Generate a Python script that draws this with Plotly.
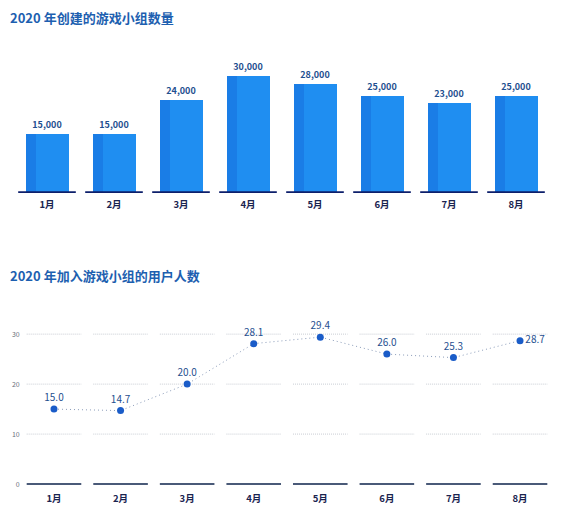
import plotly.graph_objects as go

# data
months = ["1月", "2月", "3月", "4月", "5月", "6月", "7月", "8月"]
groups_created = [15000, 15000, 24000, 30000, 28000, 25000, 23000, 25000]
users_joined = [15.0, 14.7, 20.0, 28.1, 29.4, 26.0, 25.3, 28.7]
user_ticks = [0, 10, 20, 30]

title_top = "2020 年创建的游戏小组数量"
title_bottom = "2020 年加入游戏小组的用户人数"

# page body has an 8px margin, so the figure is a bit smaller and shifted
PAD = 8
W, H = 564 - 2 * PAD, 513 - 2 * PAD
FONT = "Noto Sans CJK SC"
xs = list(range(len(months)))


def px_x(px):
    return (px - PAD) / W


def px_y(px):
    return 1 - (px - PAD) / H


def segments(half, level):
    sx, sy = [], []
    for i in xs:
        sx += [i - half, i + half, None]
        sy += [level, level, None]
    return sx, sy


fig = go.Figure()

# ---- top: bar chart ----
fig.add_trace(go.Bar(
    x=xs, y=groups_created, width=0.64, offset=-0.32,
    marker=dict(color="#1f8ef1", line=dict(width=0)),
    text=[f"<b>{v:,}</b>" for v in groups_created], textposition="outside",
    textfont=dict(family=FONT, size=9, color="#1f4f8f"),
    cliponaxis=False, xaxis="x", yaxis="y", hoverinfo="skip",
))
fig.add_trace(go.Bar(
    x=xs, y=groups_created, width=0.15, offset=-0.32,
    marker=dict(color="#1a7de6", line=dict(width=0)),
    xaxis="x", yaxis="y", hoverinfo="skip",
))
bx, by = segments(0.43, 0)
fig.add_trace(go.Scatter(
    x=bx, y=by, mode="lines", line=dict(color="#0d1f6b", width=3),
    xaxis="x", yaxis="y", hoverinfo="skip", cliponaxis=False,
))

# ---- bottom: line chart ----
for t in user_ticks[1:]:
    gx, gy = segments(0.41, t)
    fig.add_trace(go.Scatter(
        x=gx, y=gy, mode="lines", line=dict(color="#c9cdd4", width=1, dash="1px,1px"),
        xaxis="x2", yaxis="y2", hoverinfo="skip",
    ))
zx, zy = segments(0.41, 0)
fig.add_trace(go.Scatter(
    x=zx, y=zy, mode="lines", line=dict(color="#4a5a78", width=2),
    xaxis="x2", yaxis="y2", hoverinfo="skip", cliponaxis=False,
))
fig.add_trace(go.Scatter(
    x=xs, y=users_joined, mode="lines+markers+text",
    line=dict(color="#8a9bb8", width=1, dash="1px,3px"),
    marker=dict(color="#1a5cc8", size=7),
    text=[f"{v:.1f}" for v in users_joined],
    textposition=["top center"] * 7 + ["middle right"],
    textfont=dict(family=FONT, size=10, color="#1f4f8f"),
    xaxis="x2", yaxis="y2", hoverinfo="skip", cliponaxis=False,
))

axis_x = dict(
    range=[-0.5, 7.5], tickmode="array", tickvals=xs,
    ticktext=[f"<b>{m}</b>" for m in months],
    showgrid=False, zeroline=False, showline=False, ticks="",
    tickfont=dict(family=FONT, size=9.5, color="#1a2450"),
)

fig.update_layout(
    width=W, height=H,
    margin=dict(l=0, r=0, t=0, b=0),
    paper_bgcolor="white", plot_bgcolor="white",
    showlegend=False, barmode="overlay", bargap=0,
    xaxis=dict(axis_x, domain=[px_x(13.5), px_x(549.5)], anchor="y",
               ticklabelstandoff=5),
    yaxis=dict(range=[0, 36000], domain=[px_y(194), px_y(53.6)], visible=False,
               anchor="x"),
    xaxis2=dict(axis_x, domain=[px_x(20.7), px_x(553.3)], anchor="y2"),
    yaxis2=dict(range=[-1.5, 34], domain=[px_y(494.5), px_y(316)], anchor="x2",
                tickvals=user_ticks, showgrid=False, zeroline=False,
                showline=False, ticks="",
                tickfont=dict(family=FONT, size=7, color="#6a6f7a")),
    annotations=[
        dict(text=f"<b>{title_top}</b>", x=px_x(8), y=px_y(18), xref="paper", yref="paper",
             xanchor="left", yanchor="middle", showarrow=False,
             font=dict(family=FONT, size=13, color="#1d5fb0")),
        dict(text=f"<b>{title_bottom}</b>", x=px_x(8), y=px_y(277), xref="paper", yref="paper",
             xanchor="left", yanchor="middle", showarrow=False,
             font=dict(family=FONT, size=13, color="#1d5fb0")),
    ],
)

fig.write_html("out.html")
